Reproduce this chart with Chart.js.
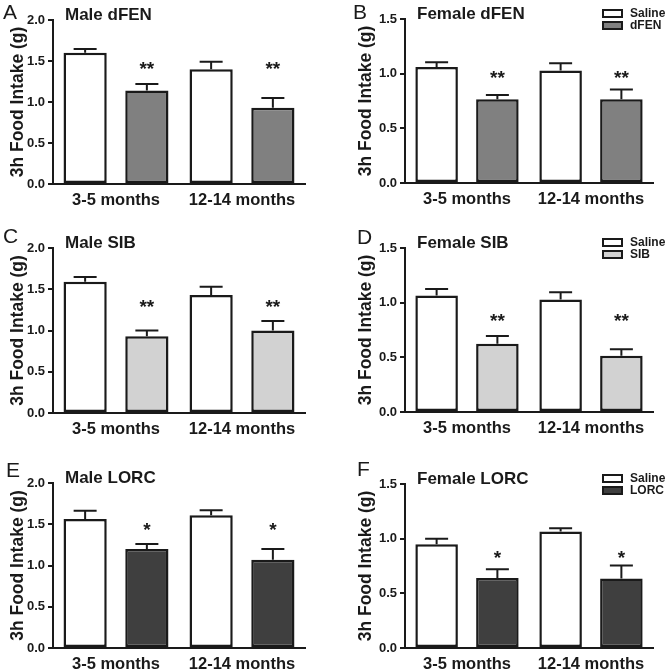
<!DOCTYPE html>
<html>
<head>
<meta charset="utf-8">
<script src="https://cdn.jsdelivr.net/npm/chart.js@4.4.0/dist/chart.umd.min.js"></script>
<style>
  html, body { margin: 0; padding: 0; background: #fff; }
  #wrap { position: relative; width: 667px; height: 671px; overflow: hidden; }
  .panel { position: absolute; }
</style>
</head>
<body>
<div id="wrap"></div>
<script>
// values (mean and SEM, g of food in 3h)
const ageGroups = ["3-5 months", "12-14 months"];
const panelLetters = ["A", "B", "C", "D", "E", "F"];
const panelTitles = ["Male dFEN", "Female dFEN", "Male SIB", "Female SIB", "Male LORC", "Female LORC"];
const drugNames = ["dFEN", "dFEN", "SIB", "SIB", "LORC", "LORC"];
const salineMeans = [[1.60, 1.40], [1.06, 1.03], [1.59, 1.43], [1.065, 1.03], [1.565, 1.61], [0.95, 1.065]];
const salineSem = [[0.045, 0.09], [0.045, 0.065], [0.06, 0.10], [0.06, 0.065], [0.10, 0.06], [0.05, 0.03]];
const drugMeans = [[1.14, 0.93], [0.765, 0.765], [0.93, 1.00], [0.625, 0.515], [1.20, 1.07], [0.64, 0.635]];
const drugSem = [[0.08, 0.12], [0.04, 0.09], [0.07, 0.115], [0.07, 0.06], [0.06, 0.13], [0.08, 0.12]];
const sigMarks = ["**", "**", "**", "**", "*", "*"];
const sigHeights = [1.45, 0.99, 1.33, 0.86, 1.47, 0.855];
const yMax = [2.0, 1.5, 2.0, 1.5, 2.0, 1.5];

const FONT = '"Liberation Sans", Arial, Helvetica, sans-serif';
const INK = "#1a1a1a";
const DRUG_FILL = { dFEN: "#808080", SIB: "#d2d2d2", LORC: "#3f3f3f" };

// canvas boxes and plot areas (page pixels)
const boxes = [
  { x: 0,   y: 0,   w: 333, h: 224, area: [53, 20, 305, 184], letter: [3, 13],    legend: false },
  { x: 333, y: 0,   w: 334, h: 224, area: [72, 19, 320, 183], letter: [353, 13],  legend: true },
  { x: 0,   y: 224, w: 333, h: 224, area: [53, 24, 305, 189], letter: [3, 237],   legend: false },
  { x: 333, y: 224, w: 334, h: 224, area: [72, 24, 320, 188], letter: [357, 238], legend: true },
  { x: 0,   y: 448, w: 333, h: 223, area: [53, 35, 305, 200], letter: [6, 471],   legend: false },
  { x: 333, y: 448, w: 334, h: 223, area: [72, 36, 320, 200], letter: [357, 470], legend: true },
];

Chart.defaults.font.family = FONT;
Chart.defaults.color = INK;

const annotate = {
  id: "annotate",
  afterDatasetsDraw(chart, args, opts) {
    const { ctx, scales: { y } } = chart;
    ctx.save();
    ctx.strokeStyle = INK;
    ctx.lineWidth = 2;
    chart.data.datasets.forEach((ds, di) => {
      chart.getDatasetMeta(di).data.forEach((bar, i) => {
        const top = y.getPixelForValue(ds.data[i] + ds.sem[i]);
        ctx.beginPath();
        ctx.moveTo(bar.x, bar.y);
        ctx.lineTo(bar.x, top);
        ctx.moveTo(bar.x - 11.5, top);
        ctx.lineTo(bar.x + 11.5, top);
        ctx.stroke();
      });
    });
    // stars over the drug bars
    ctx.fillStyle = INK;
    ctx.font = "bold 19px " + FONT;
    ctx.textAlign = "center";
    ctx.textBaseline = "alphabetic";
    const sy = y.getPixelForValue(opts.sigY);
    chart.getDatasetMeta(1).data.forEach((bar) => {
      ctx.fillText(opts.mark, bar.x, sy + 0.5 * 19);
    });
    ctx.restore();
  },
  afterDraw(chart, args, opts) {
    const { ctx, chartArea } = chart;
    ctx.save();
    ctx.fillStyle = INK;
    ctx.textBaseline = "middle";
    ctx.textAlign = "left";
    ctx.font = "21px " + FONT;
    ctx.fillText(opts.letter, opts.letterX, opts.letterY);
    ctx.font = "bold 17px " + FONT;
    ctx.fillText(opts.title, chartArea.left + 12, chartArea.top - 5);
    if (opts.legend) {
      ctx.font = "bold 12px " + FONT;
      ctx.lineWidth = 2;
      ctx.strokeStyle = INK;
      chart.data.datasets.forEach((ds, di) => {
        const cy = chartArea.top - 5.5 + di * 12;
        ctx.fillStyle = ds.backgroundColor;
        ctx.fillRect(chartArea.right - 50, cy - 3.5, 19, 7);
        ctx.strokeRect(chartArea.right - 50, cy - 3.5, 19, 7);
        ctx.fillStyle = INK;
        ctx.fillText(ds.label, chartArea.right - 23, cy);
      });
    }
    ctx.restore();
  },
};

const wrap = document.getElementById("wrap");

boxes.forEach((b, p) => {
  const div = document.createElement("div");
  div.className = "panel";
  div.style.left = b.x + "px";
  div.style.top = b.y + "px";
  div.style.width = b.w + "px";
  div.style.height = b.h + "px";
  const canvas = document.createElement("canvas");
  div.appendChild(canvas);
  wrap.appendChild(div);

  const [aL, aT, aR, aB] = b.area;
  const drug = drugNames[p];

  new Chart(canvas, {
    type: "bar",
    data: {
      labels: ageGroups,
      datasets: [
        {
          label: "Saline",
          data: salineMeans[p],
          sem: salineSem[p],
          backgroundColor: "#ffffff",
          borderColor: INK,
          borderWidth: 2.5,
          borderSkipped: false,
          categoryPercentage: 0.98,
          barPercentage: 0.7,
        },
        {
          label: drug,
          data: drugMeans[p],
          sem: drugSem[p],
          backgroundColor: DRUG_FILL[drug],
          borderColor: INK,
          borderWidth: 2.5,
          borderSkipped: false,
          categoryPercentage: 0.98,
          barPercentage: 0.7,
        },
      ],
    },
    options: {
      responsive: true,
      maintainAspectRatio: false,
      animation: false,
      layout: { padding: { left: 0, top: aT, right: b.w - aR, bottom: 0 } },
      plugins: {
        legend: { display: false },
        tooltip: { enabled: false },
        annotate: {
          letter: panelLetters[p],
          letterX: b.letter[0] - b.x,
          letterY: b.letter[1] - b.y,
          title: panelTitles[p],
          legend: b.legend,
          mark: sigMarks[p],
          sigY: sigHeights[p],
        },
      },
      scales: {
        x: {
          grid: { display: false, drawTicks: false },
          border: { display: true, color: INK, width: 2 },
          ticks: { font: { size: 16.5, weight: "bold" }, padding: 7, color: INK },
          afterFit: (s) => { s.height = b.h - aB; },
        },
        y: {
          min: 0,
          max: yMax[p],
          ticks: {
            stepSize: 0.5,
            padding: 3,
            color: INK,
            font: { size: 13, weight: "bold" },
            callback: (v) => Number(v).toFixed(1),
          },
          grid: { drawOnChartArea: false, drawTicks: true, tickLength: 5, color: INK, lineWidth: 2 },
          border: { display: true, color: INK, width: 2 },
          title: {
            display: true,
            text: "3h Food Intake (g)",
            color: INK,
            font: { size: 17.5, weight: "bold" },
            padding: { top: (b.x === 0 ? 8 : 23), bottom: 0 },
          },
          afterFit: (s) => { s.width = aL; },
        },
      },
    },
    plugins: [annotate],
  });
});
</script>
</body>
</html>
